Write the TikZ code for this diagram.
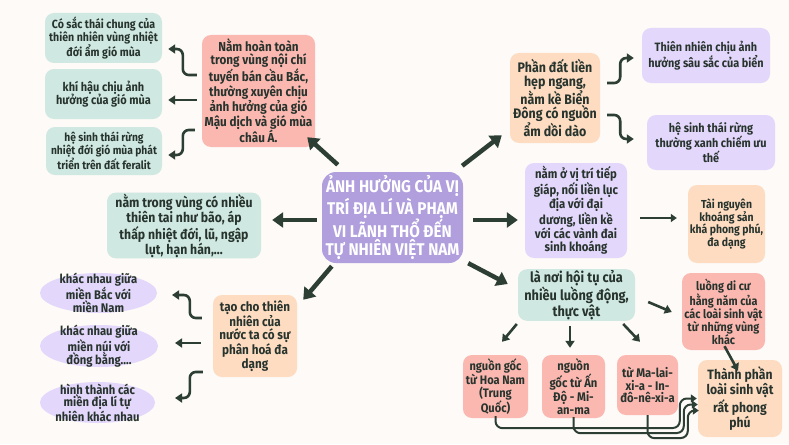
\documentclass[tikz,border=0pt]{standalone}
\usepackage{fontspec}
\setmainfont{Fira Sans}[FakeStretch=0.9]
\usetikzlibrary{arrows.meta,calc,shapes.geometric}
\definecolor{bg}{HTML}{FDFAF7}
\definecolor{tealbox}{HTML}{CFE8E1}
\definecolor{pinkbox}{HTML}{FBB8B0}
\definecolor{peachbox}{HTML}{FDDCC2}
\definecolor{lavbox}{HTML}{E3D7FB}
\definecolor{ctrbox}{HTML}{B09EDD}
\definecolor{txt}{HTML}{27332D}
\definecolor{arr}{HTML}{2D3E35}
\newcommand\bxf[2]{\bfseries\fontsize{#1}{#2}\selectfont}
\tikzset{
  box/.style={rounded corners=9pt, align=center, inner sep=1pt, text=txt},
  etext/.style={align=center, inner sep=1pt, text=txt, font=\bxf{12.5}{12.6}},
  bigarrow/.style={draw=arr, line width=4.5pt, -{Triangle[length=11pt,width=15pt]}},
  midarrow/.style={draw=arr, line width=2.6pt, rounded corners=6pt, -{Triangle[length=7pt,width=9pt]}},
  thinarrow/.style={draw=arr, line width=2pt, rounded corners=7pt, -{Triangle[length=6pt,width=8pt]}},
}
\begin{document}
\begin{tikzpicture}[x=1pt,y=-1pt]
\useasboundingbox (0,0) rectangle (789,444);
\fill[bg] (0,0) rectangle (789,444);

% top-left group
\node[box,fill=tealbox,minimum width=117pt,minimum height=50pt,font=\bxf{11.8}{13.3}] (A1) at (103.5,38)
  {Có sắc thái chung của\\thiên nhiên vùng nhiệt\\đới ẩm gió mùa};
\node[box,fill=tealbox,minimum width=117pt,minimum height=50pt,font=\bxf{12.2}{13.5}] (A2) at (103.5,94)
  {khí hậu chịu ảnh\\hưởng của gió mùa};
\node[box,fill=tealbox,minimum width=116pt,minimum height=48pt,font=\bxf{11.4}{12.8}] (A3) at (104,151)
  {hệ sinh thái rừng\\nhiệt đới gió mùa phát\\triển trên đất feralit};
\node[box,fill=pinkbox,minimum width=113pt,minimum height=112pt,font=\bxf{13}{13.1}] (B) at (258.5,91)
  {Nằm hoàn toàn\\trong vùng nội chí\\tuyến bán cầu Bắc,\\thường xuyên chịu\\ảnh hưởng của gió\\Mậu dịch và gió mùa\\châu Á.};

% top-right group
\node[box,fill=peachbox,minimum width=90pt,minimum height=90pt,font=\bxf{13.8}{14}] (C) at (555,98)
  {Phần đất liền\\hẹp ngang,\\nằm kề Biển\\Đông có nguồn\\ẩm dồi dào};
\node[box,fill=lavbox,minimum width=128pt,minimum height=55pt,font=\bxf{12.1}{13.3}] (D1) at (706,55.5)
  {Thiên nhiên chịu ảnh\\hưởng sâu sắc của biển};
\node[box,fill=lavbox,minimum width=128pt,minimum height=55pt,font=\bxf{12.1}{13.3}] (D2) at (711,142.5)
  {hệ sinh thái rừng\\thường xanh chiếm ưu\\thế};

% centre
\node[rounded corners=14pt, fill=ctrbox, text=white, align=center,
  minimum width=141pt, minimum height=91pt, inner sep=1pt,
  font=\bxf{17}{17.5}] (ctr) at (392.5,217.5)
  {ẢNH HƯỞNG CỦA VỊ\\TRÍ ĐỊA LÍ VÀ PHẠM\\VI LÃNH THỔ ĐẾN\\TỰ NHIÊN VIỆT NAM};

% middle
\node[box,fill=tealbox,minimum width=154pt,minimum height=65pt,font=\bxf{13.6}{15}] (E) at (184,225.5)
  {nằm trong vùng có nhiều\\thiên tai như bão, áp\\thấp nhiệt đới, lũ, ngập\\lụt, hạn hán,...};
\node[box,fill=lavbox,minimum width=102pt,minimum height=95pt,font=\bxf{12.6}{13.7}] (F) at (576,210.5)
  {nằm ở vị trí tiếp\\giáp, nối liền lục\\địa với đại\\dương, liền kề\\với các vành đai\\sinh khoáng};
\node[box,fill=peachbox,minimum width=77pt,minimum height=78pt,font=\bxf{11.6}{12.8}] (G) at (726.5,224)
  {Tài nguyên\\khoáng sản\\khá phong phú,\\đa dạng};

% bottom-right group
\node[box,fill=tealbox,minimum width=117pt,minimum height=50pt,font=\bxf{14.2}{14.2}] (H) at (576.5,295)
  {là nơi hội tụ của\\nhiều luồng động,\\thực vật};
\node[box,fill=pinkbox,minimum width=83pt,minimum height=77pt,font=\bxf{12}{12.9}] (I) at (723.5,311.5)
  {luồng di cư\\hằng năm của\\các loài sinh vật\\từ những vùng\\khác};
\node[box,fill=pinkbox,minimum width=65pt,minimum height=63pt,font=\bxf{12.3}{12.8}] (J1) at (495.5,386.5)
  {nguồn gốc\\từ Hoa Nam\\(Trung\\Quốc)};
\node[box,fill=pinkbox,minimum width=63pt,minimum height=63pt,font=\bxf{12.5}{12.8}] (J2) at (573.5,386.5)
  {nguồn\\gốc từ Ấn\\Độ - Mi-\\an-ma};
\node[box,fill=pinkbox,minimum width=61pt,minimum height=60pt,font=\bxf{12.5}{12.8}] (J3) at (647.5,385)
  {từ Ma-lai-\\xi-a - In-\\đô-nê-xi-a};
\node[box,fill=peachbox,minimum width=84pt,minimum height=77pt,font=\bxf{13.5}{13.9}] (K) at (740,398.5)
  {Thành phần\\loài sinh vật\\rất phong\\phú};

% bottom-left group
\node[box,fill=peachbox,minimum width=84pt,minimum height=82pt,font=\bxf{13}{13.3}] (L) at (255,336)
  {tạo cho thiên\\nhiên của\\nước ta có sự\\phân hoá đa\\dạng};
\fill[lavbox] (98.5,293) ellipse [x radius=58.5, y radius=20];
\fill[lavbox] (99,346) ellipse [x radius=59, y radius=21];
\fill[lavbox] (97.5,402.5) ellipse [x radius=57.5, y radius=20.5];
\node[etext] (M1) at (98.5,293) {khác nhau giữa\\miền Bắc với\\miền Nam};
\node[etext] (M2) at (99,346) {khác nhau giữa\\miền núi với\\đồng bằng....};
\node[etext] (M3) at (97.5,402.5) {hình thành các\\miền địa lí tự\\nhiên khác nhau};
\coordinate (M1e) at (157,293);
\coordinate (M2e) at (158,346);
\coordinate (M3e) at (155,402.5);

% centre arrows
\draw[bigarrow] ($(ctr.north west)+(16,-7)$) -- ($(B.south east)+(-8,-10)$);
\draw[bigarrow] ($(ctr.north east)+(-1,-6)$) -- ($(C.south west)+(-8,-8)$);
\draw[bigarrow] ($(ctr.west)+(-5,2.5)$) -- ($(E.east)+(11,-5.5)$);
\draw[bigarrow] ($(ctr.east)+(10,2.5)$) -- ($(F.west)+(-7,9.5)$);
\draw[bigarrow] ($(ctr.south west)+(10,3)$) -- ($(L.north east)+(6,5)$);
\draw[bigarrow] ($(ctr.south east)+(5,0)$) -- ($(H.north west)+(-10,15)$);

% B -> A
\draw[midarrow] ($(B.west)+(-5,-16)$) -- ++(-14,0) -- ++(0,-26) -- ($(A1.east)+(6,11)$);
\draw[midarrow] ($(B.west)+(-5,9)$) -- ($(A2.east)+(6,6)$);
\draw[midarrow] ($(B.west)+(-7,39)$) -- ++(-12,0) -- ++(0,25) -- ($(A3.east)+(6,4)$);

% C -> D
\draw[midarrow] ($(C.east)+(7,-15)$) -- ++(13,0) -- ++(0,-25) -- ($(D1.west)+(-8,2.5)$);
\draw[midarrow] ($(C.east)+(7,17)$) -- ++(13,0) -- ++(0,24) -- ($(D2.west)+(-13,-3.5)$);

% F -> G
\draw[thinarrow] ($(F.east)+(13,7.5)$) -- ($(G.west)+(-11,-6)$);

% H -> I, J
\draw[midarrow] ($(H.east)+(13,7)$) -- ($(I.west)+(-10,0.5)$);
\draw[midarrow] ($(H.south west)+(-1,3)$) -- ($(J1.north)+(6.5,-13)$);
\draw[midarrow] ($(H.south)+(-6.5,5)$) -- ($(J2.north)+(-3.5,-7)$);
\draw[midarrow] ($(H.south east)+(-12,3)$) -- ($(J3.north)+(-7.5,-13)$);
\draw[midarrow] ($(I.south)+(1,-4)$) -- ($(K.north)+(-2,11)$);

% J -> K
\draw[thinarrow] ($(J1.south)+(0,-2)$) -- ++(0,12) -- ($(K.west)+(-18,29.5)$) -- ($(K.west)+(-18,0)$) -- ($(K.west)+(-1,0)$);
\draw[thinarrow] ($(J2.south)+(0,-1)$) -- ++(0,16) -- ($(K.west)+(-14,34.5)$) -- ($(K.west)+(-14,6)$) -- ($(K.west)+(0,6)$);
\draw[thinarrow] ($(J3.south)+(0,0)$) -- ++(0,23) -- ($(K.west)+(-10,39.5)$) -- ($(K.west)+(-10,12)$) -- ($(K.west)+(1,12)$);

% L -> M
\draw[midarrow] ($(L.west)+(-11,-18)$) -- ++(-12,0) -- ++(0,-23) -- ($(M1e)+(15,2)$);
\draw[midarrow] ($(L.west)+(-12,7)$) -- ($(M2e)+(17,-3)$);
\draw[midarrow] ($(L.west)+(-10,36)$) -- ++(-13,0) -- ++(0,26) -- ($(M3e)+(20,-4.5)$);
\end{tikzpicture}
\end{document}
